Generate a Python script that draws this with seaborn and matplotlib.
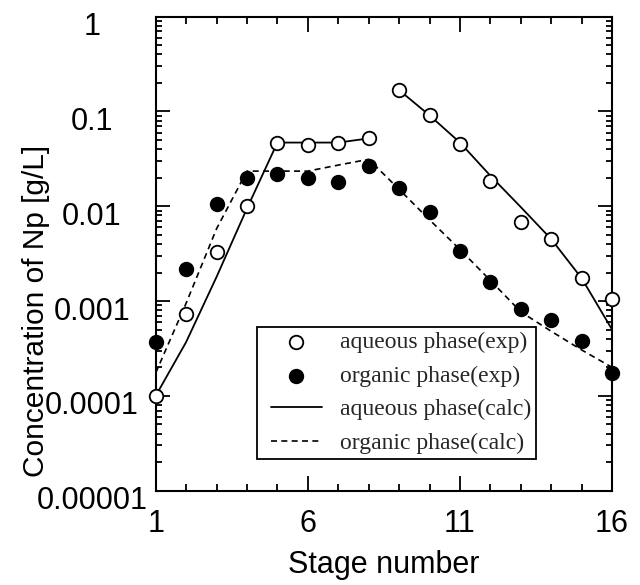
import numpy as np
import seaborn as sns
import matplotlib.pyplot as plt
from matplotlib.ticker import LogLocator, NullFormatter
from matplotlib.transforms import ScaledTranslation
from matplotlib.lines import Line2D
from matplotlib.collections import PathCollection
from matplotlib.legend_handler import HandlerLine2D, HandlerPathCollection

# stage numbers
stages = list(range(1, 17))

# measured concentrations [g/L]
aq_exp = [1.0e-4, 7.3e-4, 3.3e-3, 1.01e-2, 0.047, 0.044, 0.047, 0.052,
          0.168, 0.092, 0.045, 0.0185, 0.0068, 0.0045, 0.00174, 0.00105]
org_exp = [3.7e-4, 2.16e-3, 0.0106, 0.020, 0.0217, 0.0197, 0.0182, 0.0268,
           0.0157, 0.0086, 0.0034, 0.0016, 8.2e-4, 6.3e-4, 3.8e-4, 1.76e-4]

# calculated profiles (aqueous one is split at the feed stage)
aq_calc_stages_1 = [1, 2, 3, 4, 5, 6, 7, 8]
aq_calc_1 = [1.0e-4, 3.7e-4, 1.8e-3, 9.5e-3, 0.047, 0.047, 0.047, 0.052]
aq_calc_stages_2 = [9, 10, 11, 12, 13, 14, 15, 16]
aq_calc_2 = [0.168, 0.091, 0.047, 0.021, 0.0098, 0.0045, 0.00174, 5.0e-4]
org_calc = [1.75e-4, 9.5e-4, 5.8e-3, 0.0235, 0.0235, 0.0235, 0.0272, 0.0313,
            0.0151, 0.0072, 0.0035, 0.00165, 7.7e-4, 4.8e-4, 3.05e-4, 2.0e-4]

yticks = [1e-5, 1e-4, 1e-3, 1e-2, 1e-1, 1]
ytick_labels = ["0.00001", "0.0001", "0.001", "0.01", "0.1", "1"]
xticks = [1, 6, 11, 16]

sns.set_theme(style="ticks")
plt.rcParams["font.family"] = ["Liberation Sans", "DejaVu Sans"]

fig = plt.figure(figsize=(6.4, 5.85), dpi=100)
ax = fig.add_axes([0.2433, 0.1612, 0.7131, 0.8103])

sns.lineplot(x=aq_calc_stages_1, y=aq_calc_1, color="black", lw=1.3,
             label="aqueous phase(calc)", ax=ax)
sns.lineplot(x=aq_calc_stages_2, y=aq_calc_2, color="black", lw=1.3, ax=ax)
sns.lineplot(x=stages, y=org_calc, color="black", lw=1.2,
             linestyle=(0, (3.6, 2.6)), label="organic phase(calc)", ax=ax)

sns.scatterplot(x=stages, y=aq_exp, marker="o", s=95, color="white",
                edgecolor="black", linewidth=1.3, zorder=3, clip_on=False,
                label="aqueous phase(exp)", ax=ax)
sns.scatterplot(x=stages, y=org_exp, marker="o", s=95, color="black",
                edgecolor="black", linewidth=1.3, zorder=3, clip_on=False,
                label="organic phase(exp)", ax=ax)

ax.set_yscale("log")
ax.set_xlim(1, 16)
ax.set_ylim(1e-5, 1)

ax.set_xticks(xticks)
ax.set_xticks(stages, minor=True)
ax.set_yticks(yticks)
ax.set_yticklabels(ytick_labels)
ax.yaxis.set_minor_locator(LogLocator(base=10, subs=np.arange(2, 10)))
ax.yaxis.set_minor_formatter(NullFormatter())

ax.tick_params(axis="both", which="both", direction="in", top=True, right=True,
               width=1.3, colors="black", labelsize=22)
ax.tick_params(axis="x", which="major", length=10.5, pad=13)
ax.tick_params(axis="x", which="minor", length=4.8)
ax.tick_params(axis="y", which="major", length=10, pad=46)
ax.tick_params(axis="y", which="minor", length=4.5)

for lab in ax.get_yticklabels():
    lab.set_ha("center")
    lab.set_transform(lab.get_transform()
                      + ScaledTranslation(0, -5 / 72, fig.dpi_scale_trans))

for sp in ax.spines.values():
    sp.set_linewidth(1.5)
    sp.set_color("black")

ax.set_xlabel("Stage number", fontsize=22, labelpad=8, color="black")
ax.set_ylabel("Concentration of Np [g/L]", fontsize=21.5, color="black")
ax.yaxis.set_label_coords(-0.232, 0.38)

handles, labels = ax.get_legend_handles_labels()
order = ["aqueous phase(exp)", "organic phase(exp)",
         "aqueous phase(calc)", "organic phase(calc)"]
hl = dict(zip(labels, handles))
leg = ax.legend([hl[k] for k in order], order, loc="lower left",
                bbox_to_anchor=(0.222, 0.067), borderaxespad=0,
                frameon=True, fancybox=False, edgecolor="black", framealpha=1,
                prop={"family": "Liberation Serif", "size": 17},
                handlelength=2.54, handletextpad=0.76, labelspacing=0.51,
                borderpad=0.21,
                handler_map={Line2D: HandlerLine2D(xpad=0.38),
                             PathCollection: HandlerPathCollection(xpad=0.38)})
leg.get_frame().set_linewidth(1.3)

fig.savefig("out.png", dpi=100, facecolor="white")
